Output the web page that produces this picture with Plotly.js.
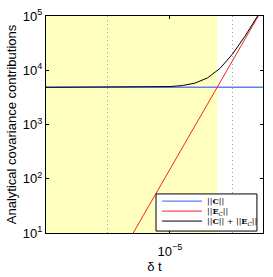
<!DOCTYPE html>
<html><head><meta charset="utf-8">
<script src="https://cdn.plot.ly/plotly-3.0.1.min.js"></script>
<style>html,body{margin:0;padding:0;background:#fff}#c{width:273px;height:277px}</style>
</head><body><div id="c"></div>
<script>
// time steps (delta t)
const dt = [1.0e-6, 1.585e-6, 2.512e-6, 3.981e-6, 6.310e-6, 1.0e-5, 1.259e-5, 1.585e-5, 1.995e-5, 2.512e-5, 3.162e-5, 3.981e-5, 5.012e-5, 5.623e-5];
// ||C|| (constant)
const normC = [4850, 4850, 4850, 4850, 4850, 4850, 4850, 4850, 4850, 4850, 4850, 4850, 4850, 4850];
// ||E_C||
const normE = [0.015, 0.094, 0.594, 3.75, 23.7, 149, 375, 942, 2366, 5943, 14928, 37497, 94189, 149300];
// ||C|| + ||E_C||
const normSum = [4850, 4850, 4851, 4854, 4874, 4999, 5225, 5792, 7216, 10793, 19778, 42347, 99039, 154150];
// region where ||E_C|| < ||C||
const stableRegion = [1e-7, 2.40e-5];
// series names and colours
const names = ['||<b>C</b>||', '||<b>E</b><sub><i>C</i></sub>||', '||<b>C</b>|| + ||<b>E</b><sub><i>C</i></sub>||'];
const colors = ['#5f82f5', '#ff2020', '#000000'];
// x axis
const xRange = [1.02e-6, 5.55e-5];
const xTickVals = [1e-5];
const xTickText = ['10<sup>−5</sup>'];
const xGridVals = [3.162e-6, 3.162e-5];
// y axis
const yTickVals = [10, 100, 1000, 10000, 100000];
const yTickText = ['10<sup>1</sup>', '10<sup>2</sup>', '10<sup>3</sup>', '10<sup>4</sup>', '10<sup>5</sup>'];

const widths = [1.4, 1.0, 1.0];
const series = [normC, normE, normSum];
const traces = series.map((s, i) => ({x: dt, y: s, mode: 'lines', name: names[i], line: {color: colors[i], width: widths[i]}}));

// manual legend box (paper coords)
const lg = {x0: 0.507, x1: 0.972, y0: 0.009, y1: 0.180, lx0: 0.535, lx1: 0.719, tx: 0.737, rows: [0.147, 0.101, 0.055]};
const shapes = [
  {type: 'rect', xref: 'x', yref: 'paper', x0: stableRegion[0], x1: stableRegion[1], y0: 0, y1: 1,
   fillcolor: '#ffffc0', line: {width: 0}, layer: 'below'},
  {type: 'rect', xref: 'paper', yref: 'paper', x0: lg.x0, x1: lg.x1, y0: lg.y0, y1: lg.y1,
   fillcolor: '#fff', line: {color: '#000', width: 1}, layer: 'above'}
];
const annotations = [];
names.forEach((n, i) => {
  shapes.push({type: 'line', xref: 'paper', yref: 'paper', x0: lg.lx0, x1: lg.lx1, y0: lg.rows[i], y1: lg.rows[i],
    line: {color: colors[i], width: widths[i]}, layer: 'above'});
  annotations.push({xref: 'paper', yref: 'paper', x: lg.tx, y: lg.rows[i], xanchor: 'left', yanchor: 'middle',
    text: n, showarrow: false, font: {family: 'DejaVu Serif, serif', size: 8, color: '#000'}, borderpad: 0});
});

const layout = {
  width: 273, height: 277,
  margin: {l: 46, r: 10, t: 16, b: 44},
  paper_bgcolor: '#fff', plot_bgcolor: '#fff',
  font: {family: 'Liberation Sans, Arial, sans-serif', size: 13, color: '#000'},
  showlegend: false,
  xaxis: {
    type: 'log', range: [Math.log10(xRange[0]), Math.log10(xRange[1])],
    tickmode: 'array', tickvals: xTickVals, ticktext: xTickText,
    ticks: 'inside', ticklen: 3, tickcolor: '#000', mirror: 'ticks',
    showline: true, linecolor: '#000', linewidth: 1,
    showgrid: false, zeroline: false, ticklabelstandoff: 6,
    minor: {tickmode: 'array', tickvals: xGridVals, ticks: '', showgrid: true, gridcolor: '#a0a0a0', griddash: '1px,3px', gridwidth: 1},
    title: {text: 'δ t', font: {size: 13}, standoff: 2},
    tickfont: {size: 13}
  },
  yaxis: {
    type: 'log', range: [1, 5],
    tickmode: 'array', tickvals: yTickVals, ticktext: yTickText,
    ticks: 'inside', ticklen: 3, tickcolor: '#000', mirror: 'ticks',
    showline: true, linecolor: '#000', linewidth: 1,
    showgrid: false, zeroline: false,
    title: {text: 'Analytical covariance contributions', font: {size: 13}, standoff: 3},
    tickfont: {size: 13}
  },
  shapes: shapes,
  annotations: annotations
};

Plotly.newPlot('c', traces, layout, {displayModeBar: false, staticPlot: true});
</script>
</body></html>
